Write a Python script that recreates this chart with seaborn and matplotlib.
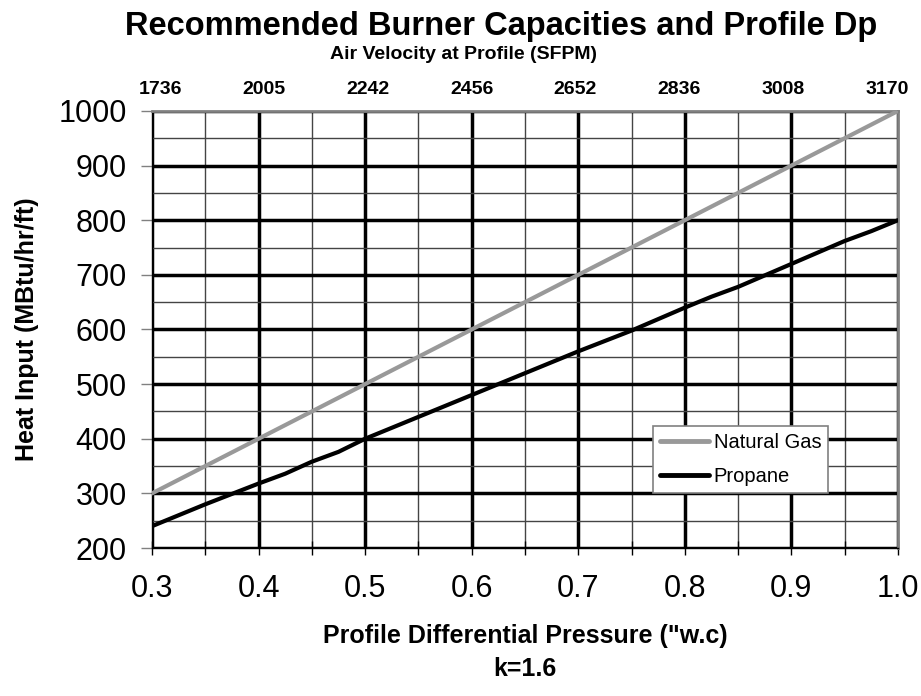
import matplotlib
matplotlib.use("Agg")
import matplotlib.pyplot as plt
from matplotlib.ticker import MultipleLocator, FormatStrFormatter
import numpy as np
import pandas as pd
import seaborn as sns

# data
dp_gas = [0.3, 0.4, 0.5, 0.6, 0.7, 0.8, 0.9, 1.0]
heat_gas = [300, 400, 500, 600, 700, 800, 900, 1000]

dp_propane = [0.3, 0.35, 0.4, 0.425, 0.45, 0.475, 0.5, 0.55, 0.6, 0.65,
              0.7, 0.75, 0.8, 0.825, 0.85, 0.9, 0.95, 0.975, 1.0]
heat_propane = [240, 280, 318, 336, 358, 376, 400, 440, 480, 520,
                560, 598, 640, 660, 678, 720, 762, 780, 800]

velocity_labels = ["1736", "2005", "2242", "2456", "2652", "2836", "3008", "3170"]

df = pd.concat([
    pd.DataFrame({"dp": dp_gas, "heat": heat_gas, "fuel": "Natural Gas"}),
    pd.DataFrame({"dp": dp_propane, "heat": heat_propane, "fuel": "Propane"}),
])

sns.set_style("white")
plt.rcParams["font.family"] = ["Liberation Sans", "DejaVu Sans"]
plt.rcParams["text.color"] = "black"
plt.rcParams["axes.labelcolor"] = "black"
plt.rcParams["xtick.color"] = "black"
plt.rcParams["ytick.color"] = "black"

fig = plt.figure(figsize=(9.21, 6.96), dpi=100)
ax = fig.add_axes([0.165, 0.2126, 0.81, 0.628])

sns.lineplot(
    data=df, x="dp", y="heat", hue="fuel",
    palette={"Natural Gas": "#999999", "Propane": "black"},
    linewidth=3, ax=ax, zorder=5,
)

ax.xaxis.set_major_locator(MultipleLocator(0.1))
ax.xaxis.set_minor_locator(MultipleLocator(0.05))
ax.xaxis.set_major_formatter(FormatStrFormatter("%.1f"))
ax.yaxis.set_major_locator(MultipleLocator(100))
ax.yaxis.set_minor_locator(MultipleLocator(50))
ax.set_xlim(0.3, 1.0)
ax.set_ylim(200, 1000)

ax.grid(which="major", color="black", linewidth=2.5)
ax.grid(which="minor", color="#444444", linewidth=1)
ax.set_axisbelow(True)
fig.canvas.draw()
for gl in ax.xaxis.get_gridlines()[:1] + ax.xaxis.get_gridlines()[-1:]:
    gl.set_visible(False)
for gl in ax.yaxis.get_gridlines()[:1] + ax.yaxis.get_gridlines()[-1:]:
    gl.set_visible(False)

for side in ["top", "right"]:
    ax.spines[side].set_color("#808080")
    ax.spines[side].set_linewidth(2)
for side in ["left", "bottom"]:
    ax.spines[side].set_color("black")
    ax.spines[side].set_linewidth(1)

ax.tick_params(axis="y", which="major", left=True, length=8, width=1,
               color="#808080", labelsize=22, pad=10)
ax.tick_params(axis="y", which="minor", left=False)
ax.tick_params(axis="x", which="both", bottom=True, direction="inout",
               length=10, width=1, color="black")
ax.tick_params(axis="x", which="major", labelsize=22, pad=14)

ax.set_xlabel("Profile Differential Pressure (\"w.c)\nk=1.6", fontsize=18,
              fontweight="bold", labelpad=14, linespacing=1.5)
ax.set_ylabel("Heat Input (MBtu/hr/ft)", fontsize=18, fontweight="bold",
              labelpad=14)

fig.text(0.544, 0.962, "Recommended Burner Capacities and Profile Dp",
         ha="center", va="center", fontsize=23.5, fontweight="bold")
fig.text(0.503, 0.921, "Air Velocity at Profile (SFPM)", ha="center",
         va="center", fontsize=14, fontweight="bold")

pos = np.linspace(0.011, 0.985, len(velocity_labels))
for p, lab in zip(pos, velocity_labels):
    ax.text(p, 1.05, lab, transform=ax.transAxes, ha="center", va="center",
            fontsize=14, fontweight="bold")

leg = ax.legend(loc="upper left", bbox_to_anchor=(0.672, 0.279), fontsize=14.5,
                frameon=True, fancybox=False, framealpha=1, handlelength=2.4,
                handletextpad=0.25, borderpad=0.35, labelspacing=0.75,
                borderaxespad=0)
leg.get_frame().set_edgecolor("#808080")
leg.get_frame().set_linewidth(1.2)
leg.set_zorder(10)
for line in leg.get_lines():
    line.set_linewidth(3.5)

fig.savefig("out.png", dpi=100)
